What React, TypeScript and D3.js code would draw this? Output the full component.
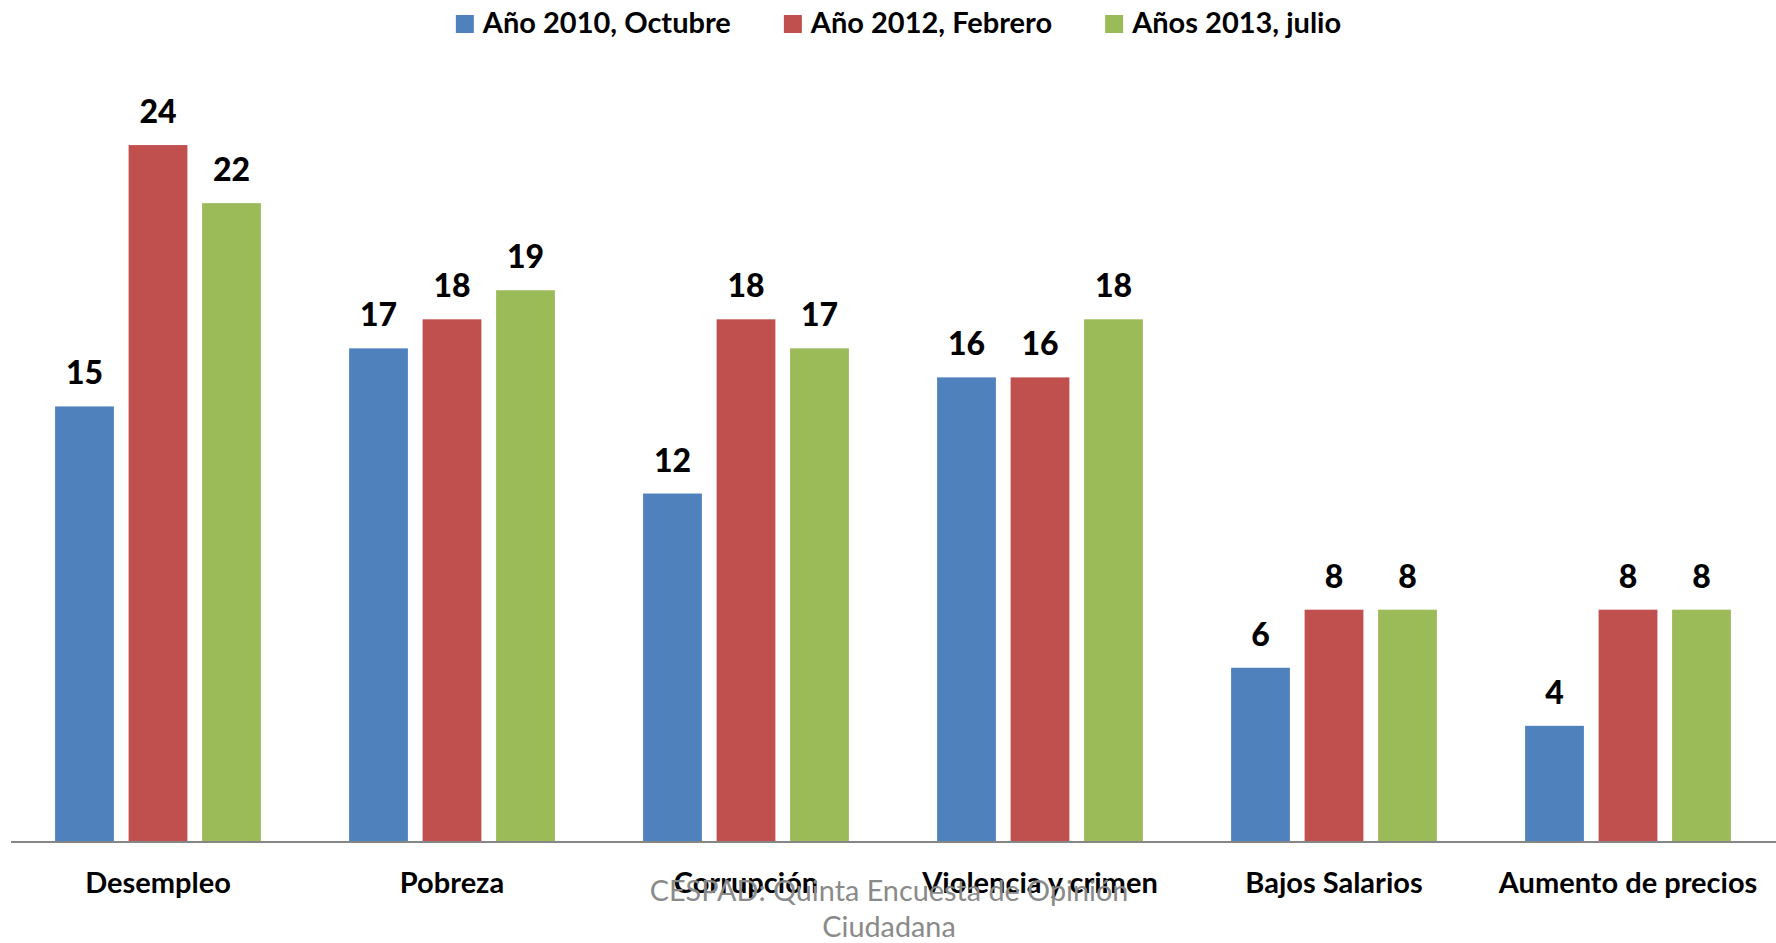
import React, { useEffect, useRef } from "react";
import * as d3 from "d3";

const categories = ["Desempleo", "Pobreza", "Corrupción", "Violencia y crimen", "Bajos Salarios", "Aumento de precios"];
const seriesNames = ["Año 2010, Octubre", "Año 2012, Febrero", "Años 2013, julio"];
const seriesColors = ["#4F81BD", "#C0504D", "#9BBB59"];
const values2010 = [15, 17, 12, 16, 6, 4];
const values2012 = [24, 18, 18, 16, 8, 8];
const values2013 = [22, 19, 17, 18, 8, 8];
const sourceLines = ["CESPAD: Quinta Encuesta de Opinión", "Ciudadana"];

const W = 1776;
const H = 943;
const FONT = "Lato, 'Open Sans', sans-serif";

export default function App() {
  const ref = useRef<SVGSVGElement | null>(null);

  useEffect(() => {
    const svg = d3.select(ref.current);
    svg.selectAll("*").remove();

    const series = [values2010, values2012, values2013];
    const x0 = d3.scaleBand<string>().domain(categories).range([11, 1775]).paddingInner(0.3).paddingOuter(0.15);
    const x1 = d3.scaleBand<number>().domain([0, 1, 2]).range([0, x0.bandwidth()]).paddingInner(0.2).paddingOuter(0);
    const y = d3.scaleLinear().domain([0, 26]).range([842, 87]);

    const rows = categories.map((c, i) => ({ c, vals: series.map((s) => s[i]) }));

    const g = svg.append("g");
    const groups = g.selectAll("g.cat").data(rows).join("g").attr("transform", (d) => `translate(${x0(d.c)},0)`);

    groups
      .selectAll("rect")
      .data((d) => d.vals.map((v, k) => ({ v, k })))
      .join("rect")
      .attr("x", (d) => x1(d.k)!)
      .attr("width", x1.bandwidth())
      .attr("y", (d) => y(d.v))
      .attr("height", (d) => y(0) - y(d.v))
      .attr("fill", (d) => seriesColors[d.k]);

    groups
      .selectAll("text.val")
      .data((d) => d.vals.map((v, k) => ({ v, k })))
      .join("text")
      .attr("class", "val")
      .attr("x", (d) => x1(d.k)! + x1.bandwidth() / 2)
      .attr("y", (d) => y(d.v) - 22)
      .attr("text-anchor", "middle")
      .attr("font-family", FONT)
      .attr("font-weight", 900)
      .attr("font-size", 32)
      .attr("fill", "#000")
      .text((d) => String(d.v));

    // axis line
    svg.append("line").attr("x1", 11).attr("x2", 1776).attr("y1", y(0)).attr("y2", y(0)).attr("stroke", "#868686").attr("stroke-width", 2);

    // category labels
    svg
      .append("g")
      .selectAll("text")
      .data(categories)
      .join("text")
      .attr("x", (d) => x0(d)! + x0.bandwidth() / 2)
      .attr("y", 893)
      .attr("text-anchor", "middle")
      .attr("font-family", FONT)
      .attr("font-weight", 700)
      .attr("font-size", 29)
      .attr("fill", "#000")
      .text((d) => d);

    // legend
    const leg = svg.append("g");
    const items = leg.selectAll("g").data(seriesNames).join("g");
    items.append("rect").attr("width", 18).attr("height", 18).attr("y", 15).attr("fill", (_, i) => seriesColors[i]);
    const texts = items
      .append("text")
      .attr("x", 27)
      .attr("y", 33)
      .attr("font-family", FONT)
      .attr("font-weight", 700)
      .attr("font-size", 29)
      .attr("fill", "#000")
      .text((d) => d);
    const widths: number[] = [];
    texts.each(function () {
      widths.push((this as SVGTextElement).getComputedTextLength());
    });
    const itemW = widths.map((w) => 27 + w);
    const gap = 53;
    const total = d3.sum(itemW) + gap * (itemW.length - 1);
    let cx = 898.5 - total / 2;
    items.attr("transform", (_, i) => {
      const t = `translate(${cx},0)`;
      cx += itemW[i] + gap;
      return t;
    });

    // source watermark
    svg
      .append("g")
      .selectAll("text")
      .data(sourceLines)
      .join("text")
      .attr("x", 889)
      .attr("y", (_, i) => 901 + i * 36)
      .attr("text-anchor", "middle")
      .attr("font-family", FONT)
      .attr("font-size", 28.8)
      .attr("fill", "#8a8a8a")
      .text((d) => d);
  }, []);

  return (
    <svg
      ref={ref}
      width={W}
      height={H}
      style={{ position: "absolute", left: 0, top: 0, background: "#fff" }}
    />
  );
}
